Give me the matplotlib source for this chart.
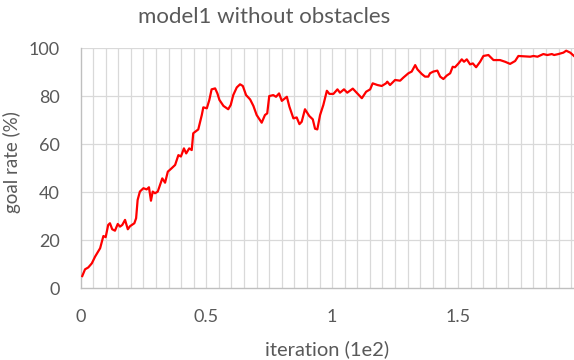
import matplotlib
matplotlib.use("Agg")
import matplotlib.pyplot as plt
import numpy as np

iteration = [
    0.007, 0.018, 0.031, 0.045, 0.058, 0.078, 0.091, 0.100, 0.110, 0.117,
    0.126, 0.137, 0.148, 0.157, 0.166, 0.177, 0.188, 0.197, 0.214, 0.221,
    0.227, 0.236, 0.250, 0.263, 0.272, 0.280, 0.287, 0.296, 0.307, 0.316,
    0.325, 0.336, 0.347, 0.362, 0.376, 0.389, 0.399, 0.411, 0.420, 0.432,
    0.442, 0.448, 0.468, 0.482, 0.488, 0.502, 0.512, 0.521, 0.535, 0.544,
    0.552, 0.568, 0.587, 0.597, 0.607, 0.621, 0.634, 0.645, 0.658, 0.674,
    0.687, 0.700, 0.720, 0.733, 0.742, 0.750, 0.766, 0.777, 0.789, 0.800,
    0.820, 0.830, 0.846, 0.859, 0.870, 0.879, 0.892, 0.909, 0.923, 0.932,
    0.941, 0.952, 0.965, 0.979, 0.989, 1.005, 1.021, 1.031, 1.047, 1.060,
    1.082, 1.100, 1.118, 1.135, 1.151, 1.161, 1.180, 1.197, 1.214, 1.219,
    1.230, 1.250, 1.270, 1.283, 1.303, 1.316, 1.330, 1.339, 1.356, 1.369,
    1.382, 1.389, 1.402, 1.418, 1.429, 1.442, 1.455, 1.469, 1.479, 1.488,
    1.502, 1.515, 1.524, 1.535, 1.548, 1.559, 1.572, 1.588, 1.601, 1.621,
    1.641, 1.667, 1.687, 1.707, 1.727, 1.740, 1.787, 1.800, 1.816, 1.839,
    1.855, 1.873, 1.882, 1.899, 1.919, 1.930, 1.946, 1.961,
]
goal_rate = [
    5.1, 7.9, 8.7, 10.4, 13.2, 16.7, 21.8, 21.3, 26.4, 27.1,
    24.6, 24.0, 26.8, 25.7, 26.4, 28.5, 24.6, 25.9, 27.1, 29.2,
    36.8, 40.3, 41.7, 41.2, 42.1, 36.5, 40.3, 39.6, 40.3, 43.0,
    45.8, 44.0, 48.6, 50.0, 51.4, 55.5, 54.9, 58.3, 56.2, 58.3,
    57.6, 64.6, 66.2, 72.2, 75.4, 75.0, 78.5, 82.9, 83.3, 81.2,
    78.5, 76.0, 74.6, 76.4, 80.5, 83.7, 85.0, 84.3, 80.5, 78.7,
    76.0, 72.2, 69.0, 72.2, 72.9, 80.1, 80.5, 79.8, 81.2, 78.1,
    79.8, 75.7, 70.8, 71.2, 68.4, 69.4, 74.6, 71.8, 70.4, 66.5,
    66.2, 72.2, 76.4, 82.3, 81.0, 81.0, 82.9, 81.5, 82.9, 81.5,
    83.2, 81.2, 79.2, 81.9, 82.9, 85.4, 84.7, 84.3, 85.4, 86.1,
    84.7, 86.8, 86.5, 87.8, 89.6, 90.3, 93.0, 91.2, 89.3, 88.2,
    88.2, 89.6, 90.3, 90.7, 88.2, 87.2, 88.6, 89.6, 92.3, 92.1,
    93.7, 95.4, 94.4, 95.4, 93.3, 93.7, 92.1, 94.4, 96.8, 97.2,
    95.1, 95.1, 94.4, 93.5, 94.7, 96.8, 96.5, 96.8, 96.5, 97.6,
    97.2, 97.6, 97.2, 97.6, 98.2, 99.0, 98.2, 96.8,
]
x_ticks = [0, 0.5, 1, 1.5]
x_tick_labels = ["0", "0.5", "1", "1.5"]
y_ticks = [0, 20, 40, 60, 80, 100]

plt.rcParams['font.family'] = ['Lato', 'DejaVu Sans']
text_color = '#595959'
grid_color = '#d9d9d9'

fig = plt.figure(figsize=(5.74, 3.6), dpi=100)
ax = fig.add_axes([80.5 / 574, 1 - 288.3 / 360, 1 - 80.5 / 574, (288.3 - 48.3) / 360])

ax.plot(iteration, goal_rate, color='#ff0000', linewidth=1.6, zorder=3)

ax.set_xlim(0, iteration[-1])
ax.set_ylim(0, 100)

# vertical gridlines every 0.05, horizontal every 20
for gx in np.arange(0.05, iteration[-1], 0.05):
    ax.axvline(gx, color=grid_color, linewidth=0.9, zorder=1)
for gy in y_ticks[1:]:
    ax.axhline(gy, color=grid_color, linewidth=0.9, zorder=1)

ax.set_xticks(x_ticks)
ax.set_xticklabels(x_tick_labels)
ax.set_yticks(y_ticks)
ax.tick_params(length=0, labelsize=13, colors=text_color)
ax.tick_params(axis='x', pad=15)
ax.tick_params(axis='y', pad=15)

for side in ['top', 'right']:
    ax.spines[side].set_visible(False)
for side in ['left', 'bottom']:
    ax.spines[side].set_color('#bfbfbf')
    ax.spines[side].set_linewidth(1.0)

fig.text(0.5 * (137 + 391) / 574, 1 - 17 / 360, "model1 without obstacles",
         ha='center', va='center', fontsize=16, color=text_color)
fig.text(12 / 574, 1 - 162 / 360, "goal rate (%)", rotation=90,
         ha='center', va='center', fontsize=13.5, color=text_color)
fig.text(327 / 574, 1 - 349 / 360, "iteration (1e2)",
         ha='center', va='center', fontsize=14.5, color=text_color)

fig.savefig("out.png", dpi=100)
